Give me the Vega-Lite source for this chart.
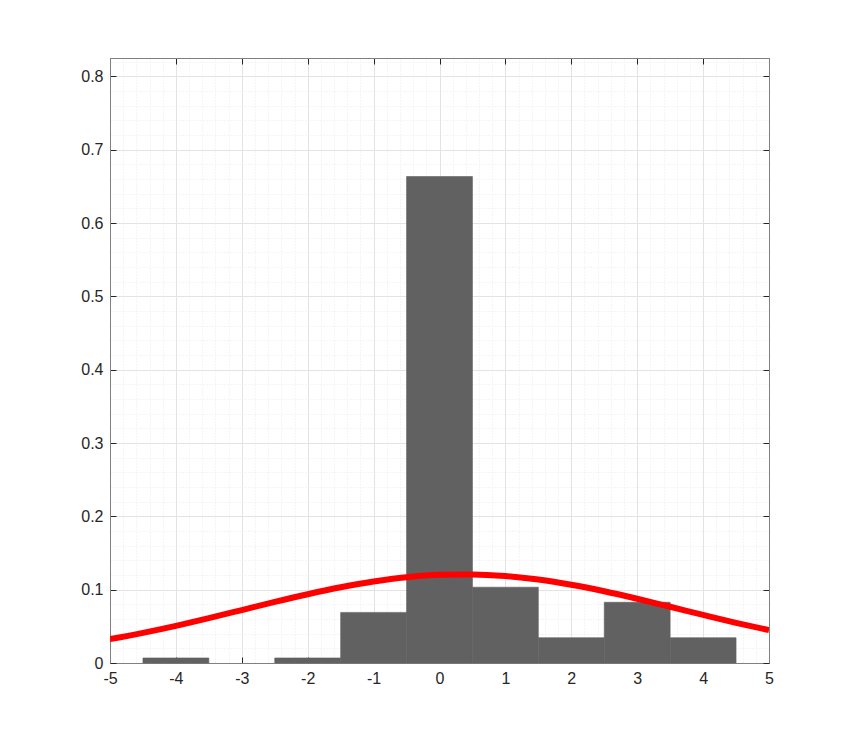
{
  "$schema": "https://vega.github.io/schema/vega-lite/v6.json",
  "width": 659,
  "height": 605,
  "autosize": {"type": "none"},
  "padding": {"left": 110, "top": 58, "right": 81, "bottom": 82},
  "background": "#ffffff",
  "config": {
    "view": {"stroke": null},
    "axis": {
      "labelFont": "Liberation Sans",
      "labelFontSize": 16,
      "labelColor": "#262626",
      "domainColor": "#808080",
      "domainWidth": 1,
      "tickColor": "#262626",
      "tickWidth": 1,
      "tickSize": -6,
      "labelOverlap": false,
      "labelBound": false,
      "labelFlush": false,
      "title": null
    }
  },
  "datasets": {
    "bins": [
      {"bin_start": -4.5, "bin_end": -3.5, "density": 0.0069},
      {"bin_start": -2.5, "bin_end": -1.5, "density": 0.0069},
      {"bin_start": -1.5, "bin_end": -0.5, "density": 0.069},
      {"bin_start": -0.5, "bin_end": 0.5, "density": 0.6634},
      {"bin_start": 0.5, "bin_end": 1.5, "density": 0.1034},
      {"bin_start": 1.5, "bin_end": 2.5, "density": 0.0345},
      {"bin_start": 2.5, "bin_end": 3.5, "density": 0.0828},
      {"bin_start": 3.5, "bin_end": 4.5, "density": 0.0345}
    ],
    "fit": [
      {"x": -5, "pdf": 0.0325},
      {"x": -4.5, "pdf": 0.0411},
      {"x": -4, "pdf": 0.0507},
      {"x": -3.5, "pdf": 0.0612},
      {"x": -3, "pdf": 0.0722},
      {"x": -2.5, "pdf": 0.0833},
      {"x": -2, "pdf": 0.0938},
      {"x": -1.5, "pdf": 0.1033},
      {"x": -1, "pdf": 0.1112},
      {"x": -0.5, "pdf": 0.1170},
      {"x": 0, "pdf": 0.1202},
      {"x": 0.5, "pdf": 0.1208},
      {"x": 1, "pdf": 0.1186},
      {"x": 1.5, "pdf": 0.1138},
      {"x": 2, "pdf": 0.1067},
      {"x": 2.5, "pdf": 0.0978},
      {"x": 3, "pdf": 0.0876},
      {"x": 3.5, "pdf": 0.0767},
      {"x": 4, "pdf": 0.0656},
      {"x": 4.5, "pdf": 0.0548},
      {"x": 5, "pdf": 0.0448}
    ]
  },
  "layer": [
    {
      "data": {"name": "bins"},
      "mark": {"type": "bar", "color": "#616161", "stroke": "#616161", "strokeWidth": 0.6},
      "encoding": {
        "x": {
          "field": "bin_start",
          "type": "quantitative",
          "scale": {"domain": [-5, 5], "nice": false, "zero": false},
          "axis": {
            "orient": "bottom",
            "values": [-5,-4.8,-4.6,-4.4,-4.2,-4,-3.8,-3.6,-3.4,-3.2,-3,-2.8,-2.6,-2.4,-2.2,-2,-1.8,-1.6,-1.4,-1.2,-1,-0.8,-0.6,-0.4,-0.2,0,0.2,0.4,0.6,0.8,1,1.2,1.4,1.6,1.8,2,2.2,2.4,2.6,2.8,3,3.2,3.4,3.6,3.8,4,4.2,4.4,4.6,4.8,5],
            "labelExpr": "abs(datum.value - round(datum.value)) < 0.001 ? toString(round(datum.value)) : ''",
            "labelPadding": 13,
            "tickOpacity": {"condition": {"test": "abs(datum.value - round(datum.value)) < 0.001", "value": 1}, "value": 0},
            "grid": true,
            "gridColor": {"condition": {"test": "abs(datum.value - round(datum.value)) < 0.001", "value": "#e3e3e3"}, "value": "#ebebeb"},
            "gridDash": {"condition": {"test": "abs(datum.value - round(datum.value)) < 0.001", "value": []}, "value": [1, 2]},
            "gridWidth": 1
          }
        },
        "x2": {"field": "bin_end"},
        "y": {
          "field": "density",
          "type": "quantitative",
          "scale": {"domain": [0, 0.825], "nice": false, "zero": true},
          "axis": {
            "orient": "left",
            "values": [0,0.02,0.04,0.06,0.08,0.1,0.12,0.14,0.16,0.18,0.2,0.22,0.24,0.26,0.28,0.3,0.32,0.34,0.36,0.38,0.4,0.42,0.44,0.46,0.48,0.5,0.52,0.54,0.56,0.58,0.6,0.62,0.64,0.66,0.68,0.7,0.72,0.74,0.76,0.78,0.8,0.82],
            "labelExpr": "abs(datum.value*10 - round(datum.value*10)) < 0.001 ? toString(round(datum.value*10)/10) : ''",
            "labelPadding": 13,
            "tickOpacity": {"condition": {"test": "abs(datum.value*10 - round(datum.value*10)) < 0.001", "value": 1}, "value": 0},
            "grid": true,
            "gridColor": {"condition": {"test": "abs(datum.value*10 - round(datum.value*10)) < 0.001", "value": "#e3e3e3"}, "value": "#ebebeb"},
            "gridDash": {"condition": {"test": "abs(datum.value*10 - round(datum.value*10)) < 0.001", "value": []}, "value": [1, 2]},
            "gridWidth": 1
          }
        },
        "y2": {"datum": 0}
      }
    },
    {
      "data": {"name": "fit"},
      "mark": {"type": "line", "color": "#ff0000", "strokeWidth": 6, "interpolate": "monotone", "clip": true},
      "encoding": {
        "x": {
          "field": "x",
          "type": "quantitative",
          "axis": {
            "orient": "top",
            "values": [-5,-4,-3,-2,-1,0,1,2,3,4,5],
            "labels": false,
            "grid": false
          }
        },
        "y": {
          "field": "pdf",
          "type": "quantitative",
          "axis": {
            "orient": "right",
            "values": [0,0.1,0.2,0.3,0.4,0.5,0.6,0.7,0.8],
            "labels": false,
            "grid": false
          }
        }
      }
    }
  ],
  "resolve": {"axis": {"x": "independent", "y": "independent"}}
}
